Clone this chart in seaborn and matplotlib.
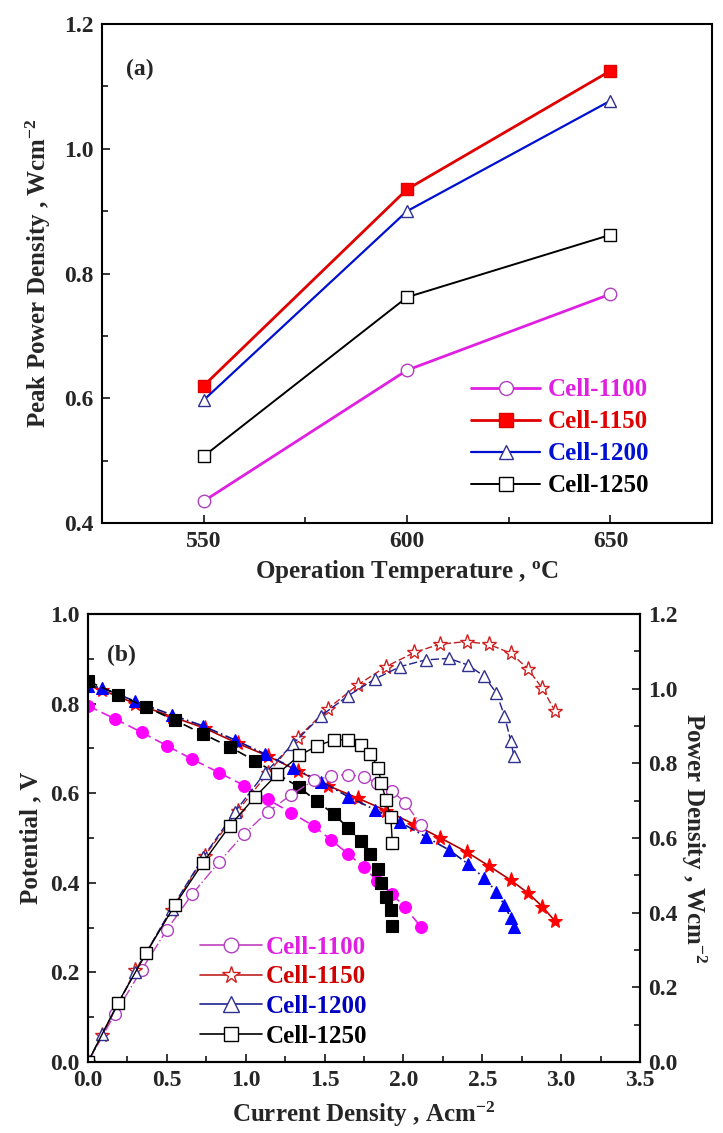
import numpy as np
import pandas as pd
import matplotlib
matplotlib.use("Agg")
import matplotlib.pyplot as plt
import seaborn as sns
from matplotlib.lines import Line2D
from matplotlib.ticker import MultipleLocator, FormatStrFormatter

# ---- panel (a): peak power density vs temperature ----
temps = [550, 600, 650]
peak_1100 = [0.435, 0.645, 0.767]
peak_1150 = [0.620, 0.935, 1.125]
peak_1200 = [0.597, 0.900, 1.077]
peak_1250 = [0.507, 0.762, 0.862]

# ---- panel (b): I-V and I-P curves ----
i_1100 = [0.0, 0.17, 0.34, 0.50, 0.66, 0.83, 0.99, 1.14, 1.29, 1.43, 1.54, 1.65, 1.75, 1.83, 1.93, 2.01, 2.11]
v_1100 = [0.795, 0.766, 0.736, 0.706, 0.676, 0.646, 0.617, 0.586, 0.556, 0.527, 0.496, 0.464, 0.435, 0.405, 0.374, 0.345, 0.302]
p_1100 = [0.0, 0.128, 0.247, 0.354, 0.449, 0.535, 0.611, 0.670, 0.716, 0.754, 0.766, 0.770, 0.763, 0.748, 0.725, 0.695, 0.636]

i_1150 = [0.0, 0.09, 0.30, 0.53, 0.74, 0.95, 1.14, 1.33, 1.52, 1.71, 1.89, 2.07, 2.23, 2.40, 2.54, 2.68, 2.79, 2.88, 2.96]
v_1150 = [0.840, 0.830, 0.800, 0.771, 0.745, 0.711, 0.683, 0.650, 0.617, 0.589, 0.561, 0.530, 0.501, 0.469, 0.438, 0.406, 0.377, 0.347, 0.315]
p_1150 = [0.0, 0.072, 0.245, 0.407, 0.552, 0.673, 0.773, 0.869, 0.946, 1.010, 1.059, 1.097, 1.119, 1.126, 1.119, 1.095, 1.053, 1.001, 0.941]

i_1200 = [0.0, 0.09, 0.30, 0.53, 0.73, 0.93, 1.12, 1.30, 1.48, 1.65, 1.82, 1.98, 2.14, 2.29, 2.41, 2.51, 2.59, 2.64, 2.68, 2.70]
v_1200 = [0.840, 0.835, 0.805, 0.775, 0.750, 0.719, 0.688, 0.656, 0.626, 0.592, 0.563, 0.535, 0.503, 0.473, 0.442, 0.411, 0.380, 0.350, 0.322, 0.302]
p_1200 = [0.0, 0.075, 0.242, 0.411, 0.548, 0.669, 0.773, 0.852, 0.928, 0.981, 1.026, 1.059, 1.077, 1.081, 1.063, 1.034, 0.988, 0.928, 0.861, 0.820]

i_1250 = [0.0, 0.19, 0.37, 0.55, 0.73, 0.90, 1.06, 1.20, 1.34, 1.45, 1.56, 1.65, 1.73, 1.79, 1.84, 1.86, 1.89, 1.92, 1.93]
v_1250 = [0.850, 0.820, 0.792, 0.763, 0.732, 0.703, 0.672, 0.643, 0.613, 0.582, 0.553, 0.522, 0.493, 0.464, 0.430, 0.400, 0.369, 0.339, 0.304]
p_1250 = [0.0, 0.158, 0.292, 0.420, 0.534, 0.633, 0.710, 0.771, 0.821, 0.846, 0.863, 0.863, 0.850, 0.825, 0.788, 0.746, 0.702, 0.655, 0.587]

cells = ["Cell-1100", "Cell-1150", "Cell-1200", "Cell-1250"]

sns.set_style("ticks")
plt.rcParams['font.family'] = ['Liberation Serif', 'DejaVu Serif']
plt.rcParams['font.weight'] = 'bold'
plt.rcParams['axes.labelweight'] = 'bold'
plt.rcParams['mathtext.fontset'] = 'custom'
plt.rcParams['mathtext.rm'] = 'Liberation Serif:bold'
plt.rcParams['mathtext.bf'] = 'Liberation Serif:bold'
plt.rcParams['mathtext.default'] = 'regular'

FS_TICK = 17
FS_LAB = 18
FS_LEG = 18

fig = plt.figure(figsize=(7.23, 11.33), dpi=100)
ax1 = fig.add_axes([0.141, 0.5384, 0.844, 0.4404])
ax2 = fig.add_axes([0.1217, 0.0627, 0.7635, 0.3954])
ax3 = ax2.twinx()

# ---- panel (a) ----
styles_a = [
    dict(color="#e020e0", marker="o", mfc="white", mec="#b040c0", lw=2.0),
    dict(color="#e00000", marker="s", mfc="#ff0000", mec="#e00000", lw=2.0),
    dict(color="#0010d0", marker="^", mfc="white", mec="#303090", lw=1.6),
    dict(color="black", marker="s", mfc="white", mec="black", lw=1.4),
]
for vals, name, st in zip([peak_1100, peak_1150, peak_1200, peak_1250], cells, styles_a):
    sns.lineplot(x=temps, y=vals, ax=ax1, color=st["color"], marker=st["marker"],
                 markersize=9, markerfacecolor=st["mfc"], markeredgecolor=st["mec"],
                 markeredgewidth=1.0, linewidth=st["lw"], label=name, legend=False)

ax1.set_xlim(525, 675)
ax1.set_ylim(0.4, 1.2)
ax1.set_xticks(temps)
ax1.xaxis.set_minor_locator(MultipleLocator(25))
ax1.yaxis.set_major_locator(MultipleLocator(0.2))
ax1.yaxis.set_minor_locator(MultipleLocator(0.1))
ax1.set_xlabel("Operation Temperature , $^{o}$C", fontsize=FS_LAB, labelpad=4)
ax1.set_ylabel("Peak Power Density , Wcm$^{-2}$", fontsize=FS_LAB, labelpad=8)
ax1.text(0.04, 0.93, "(a)", transform=ax1.transAxes, fontsize=17, fontweight="bold",
         ha="left", va="top")

handles_a = [Line2D([], [], color=st["color"], marker=st["marker"], markersize=10,
                    markerfacecolor=st["mfc"], markeredgecolor=st["mec"], lw=st["lw"])
             for st in styles_a]
leg_a = ax1.legend(handles_a, cells, loc="upper left", bbox_to_anchor=(0.585, 0.315),
                   frameon=False, fontsize=FS_LEG, handlelength=2.75, handletextpad=0.3,
                   labelspacing=0.36, borderpad=0)
for txt, c in zip(leg_a.get_texts(), ["#e020e0", "#e00000", "#0010d0", "black"]):
    txt.set_color(c)

# ---- panel (b) ----
v_styles = [
    dict(color="#e020e0", marker="o", mfc="#ff00ff", mec="#ff00ff", ls=(0, (6, 3))),
    dict(color="#b00000", marker="*", mfc="#ff0000", mec="#ff0000", ls="-"),
    dict(color="#101080", marker="^", mfc="#0000ff", mec="#0000ff", ls=(0, (6, 2, 1, 2))),
    dict(color="black", marker="s", mfc="black", mec="black", ls=(0, (6, 3))),
]
p_styles = [
    dict(color="#c040c0", marker="o", mec="#b040c0", ls=(0, (8, 2, 1, 2))),
    dict(color="#c02020", marker="*", mec="#d02020", ls=(0, (5, 2))),
    dict(color="#202090", marker="^", mec="#303090", ls=(0, (6, 2))),
    dict(color="black", marker="s", mec="black", ls="-"),
]
msizes = [8.5, 11, 9, 8]
iv_sets = [(i_1100, v_1100, p_1100), (i_1150, v_1150, p_1150),
           (i_1200, v_1200, p_1200), (i_1250, v_1250, p_1250)]

for (cur, volt, pw), vs, ps, ms in zip(iv_sets, v_styles, p_styles, msizes):
    sns.lineplot(x=cur, y=volt, ax=ax2, color=vs["color"], marker=vs["marker"],
                 markersize=ms, markerfacecolor=vs["mfc"], markeredgecolor=vs["mec"],
                 markeredgewidth=0.8, linestyle=vs["ls"], linewidth=1.2, legend=False)
    sns.lineplot(x=cur, y=pw, ax=ax3, color=ps["color"], marker=ps["marker"],
                 markersize=ms, markerfacecolor="white", markeredgecolor=ps["mec"],
                 markeredgewidth=1.0, linestyle=ps["ls"], linewidth=1.0, legend=False)

ax2.set_xlim(0, 3.5)
ax2.set_ylim(0, 1.0)
ax3.set_ylim(0, 1.2)
ax2.xaxis.set_major_locator(MultipleLocator(0.5))
ax2.xaxis.set_minor_locator(MultipleLocator(0.25))
ax2.yaxis.set_major_locator(MultipleLocator(0.2))
ax2.yaxis.set_minor_locator(MultipleLocator(0.1))
ax3.yaxis.set_major_locator(MultipleLocator(0.2))
ax3.yaxis.set_minor_locator(MultipleLocator(0.1))
ax2.set_xlabel("Current Density , Acm$^{-2}$", fontsize=FS_LAB, labelpad=6)
ax2.set_ylabel("Potential , V", fontsize=FS_LAB, labelpad=6)
ax3.set_ylabel("Power Density , Wcm$^{-2}$", fontsize=FS_LAB, rotation=270, labelpad=22)
ax2.text(0.035, 0.93, "(b)", transform=ax2.transAxes, fontsize=17, fontweight="bold",
         ha="left", va="top")

handles_b = [Line2D([], [], color=ps["color"], marker=ps["marker"], markersize=ms + 2,
                    markerfacecolor="white", markeredgecolor=ps["mec"], lw=1.2)
             for ps, ms in zip(p_styles, msizes)]
leg_b = ax2.legend(handles_b, cells, loc="upper left", bbox_to_anchor=(0.18, 0.31),
                   frameon=False, fontsize=FS_LEG, handlelength=2.5, handletextpad=0.15,
                   labelspacing=0.27, borderpad=0)
for txt, c in zip(leg_b.get_texts(), ["#e020e0", "#d00000", "#0000c0", "black"]):
    txt.set_color(c)

for ax in [ax1, ax2, ax3]:
    for sp in ax.spines.values():
        sp.set_linewidth(1.5)
        sp.set_color("black")
    ax.tick_params(which="both", direction="in", width=1.3, labelsize=FS_TICK, pad=6)
    ax.tick_params(which="major", length=6)
    ax.tick_params(which="minor", length=4)
    for lab in ax.get_xticklabels() + ax.get_yticklabels():
        lab.set_fontweight("bold")

ax1.tick_params(which="both", top=False, right=False)
ax2.tick_params(which="both", top=False, right=False)
ax3.tick_params(which="both", left=False, top=False, right=True)
for ax in [ax1, ax2, ax3]:
    ax.yaxis.set_major_formatter(FormatStrFormatter("%.1f"))
ax2.xaxis.set_major_formatter(FormatStrFormatter("%.1f"))

fig.savefig("out.png", dpi=100)
